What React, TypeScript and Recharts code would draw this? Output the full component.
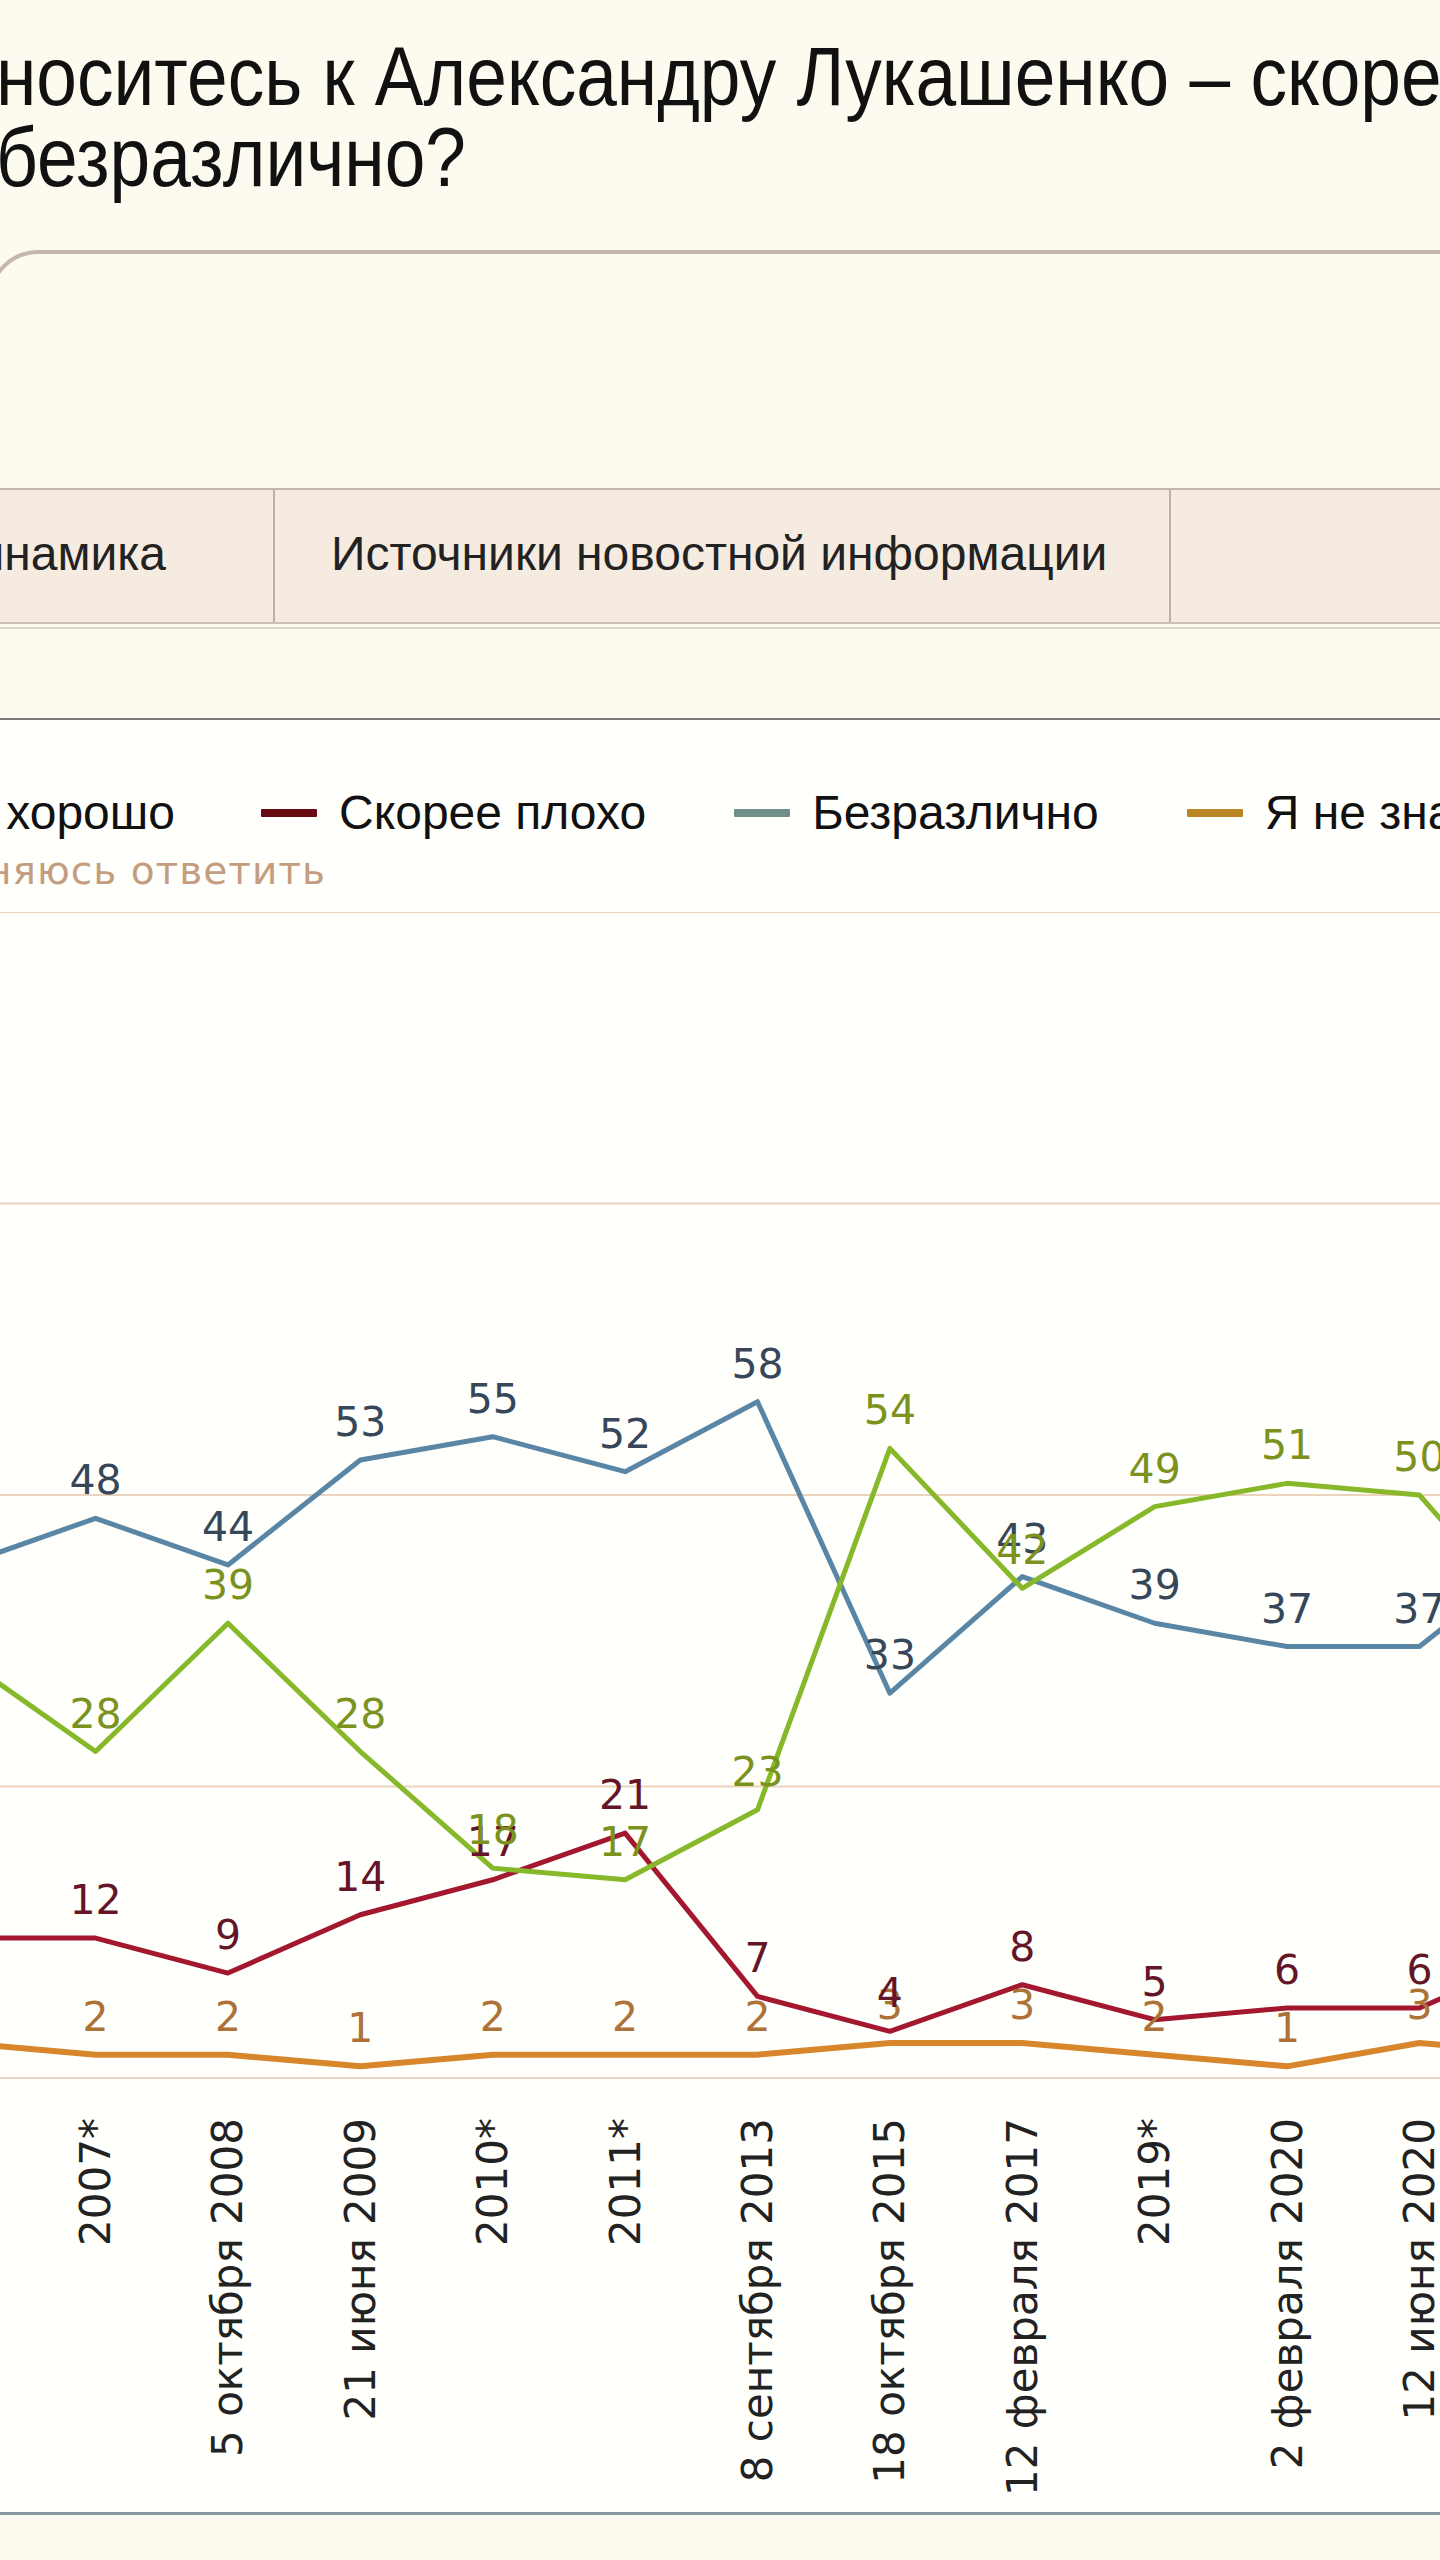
import React from "react";
import { CartesianGrid, LabelList, Line, LineChart, XAxis, YAxis } from "recharts";

// first and last points sit outside the visible crop
const categories = [
  "2006*",
  "2007*",
  "5 октября 2008",
  "21 июня 2009",
  "2010*",
  "2011*",
  "8 сентября 2013",
  "18 октября 2015",
  "12 февраля 2017",
  "2019*",
  "2 февраля 2020",
  "12 июня 2020",
  "август 2020"
];
const good = [36, 28, 39, 28, 18, 17, 23, 54, 42, 49, 51, 50, 37];
const bad = [12, 12, 9, 14, 17, 21, 7, 4, 8, 5, 6, 6, 11];
const indifferent = [44, 48, 44, 53, 55, 52, 58, 33, 43, 39, 37, 37, 46];
const unsure = [3, 2, 2, 1, 2, 2, 2, 3, 3, 2, 1, 3, 2];
const yTicks = [0, 25, 50, 75, 100];

const series = [
  { key: "unsure", name: "Я не знаю", color: "#d8862c", label: "#ad7237", legend: "#b98626", width: 6 },
  { key: "bad", name: "Скорее плохо", color: "#a3182e", label: "#641527", legend: "#6a0b14", width: 5 },
  { key: "indifferent", name: "Безразлично", color: "#5a86a6", label: "#37475a", legend: "#6f9088", width: 5 },
  { key: "good", name: "Скорее хорошо", color: "#86b82a", label: "#7b921e", legend: "#86b82a", width: 5 }
];

const chartData = categories.map((name, idx) => ({
  idx,
  name,
  good: good[idx],
  bad: bad[idx],
  indifferent: indifferent[idx],
  unsure: unsure[idx]
}));

const labelTicks = categories.map((_, i) => i);
const boundTicks = categories.slice(1).map((_, i) => i + 0.5);

const CategoryTick = (props: any) => {
  const { x, y, payload } = props;
  return (
    <g transform={`translate(${x},${y + 40})`}>
      <text
        transform="rotate(-90)"
        textAnchor="end"
        dominantBaseline="central"
        fontSize={42}
        fontFamily="DejaVu Sans"
        fill="#222"
      >
        {categories[payload.value]}
      </text>
    </g>
  );
};

const sansL = "'Liberation Sans', Arial, sans-serif";

function LegendItem({ color, name }: { color: string; name: string }) {
  return (
    <div style={{ display: "flex", alignItems: "center", whiteSpace: "nowrap" }}>
      <div style={{ width: 56, height: 8, background: color, marginRight: 22, borderRadius: 1 }} />
      <span>{name}</span>
    </div>
  );
}

export default function App() {
  const legendOrder = ["bad", "indifferent", "unsure"].map((k) => series.find((s) => s.key === k)!);
  const goodS = series.find((s) => s.key === "good")!;
  return (
    <div
      style={{
        position: "absolute",
        left: 0,
        top: 0,
        width: 1440,
        height: 2560,
        overflow: "hidden",
        background: "#fdfbf0",
        fontFamily: sansL
      }}
    >
      {/* heading */}
      <div
        style={{
          position: "absolute",
          left: -4,
          top: 31,
          fontSize: 84,
          lineHeight: "90px",
          color: "#111",
          whiteSpace: "nowrap",
          transform: "scaleX(0.87)",
          transformOrigin: "left top"
        }}
      >
        <div>носитесь к Александру Лукашенко – скорее хорошо, скорее плохо или</div>
        <div style={{ marginTop: -9 }}>безразлично?</div>
      </div>

      {/* empty box */}
      <div
        style={{
          position: "absolute",
          left: -12,
          top: 250,
          width: 1520,
          height: 300,
          borderTop: "4px solid #c2b6ae",
          borderLeft: "4px solid #c2b6ae",
          borderTopLeftRadius: 50,
          boxShadow: "0 2px 3px rgba(160,140,130,0.25)"
        }}
      />

      {/* tabs */}
      <div
        style={{
          position: "absolute",
          left: 0,
          top: 488,
          width: 1440,
          height: 132,
          background: "#f6ebe1",
          borderTop: "2px solid #c2b8b0",
          borderBottom: "2px solid #cdc1b6",
          fontSize: 48,
          lineHeight: "56px",
          color: "#222"
        }}
      >
        <div style={{ position: "absolute", right: 1440 - 166, top: 36, whiteSpace: "nowrap" }}>Динамика</div>
        <div style={{ position: "absolute", left: 273, top: 0, width: 2, height: 132, background: "#bdb2aa" }} />
        <div style={{ position: "absolute", left: 331, top: 36, whiteSpace: "nowrap" }}>
          Источники новостной информации
        </div>
        <div style={{ position: "absolute", left: 1169, top: 0, width: 2, height: 132, background: "#bdb2aa" }} />
      </div>
      <div style={{ position: "absolute", left: 0, top: 627, width: 1440, height: 2, background: "#e0d5cb" }} />

      {/* panel */}
      <div
        style={{
          position: "absolute",
          left: 0,
          top: 718,
          width: 1440,
          height: 1795,
          background: "#fffffb",
          borderTop: "2px solid #7a7a7a"
        }}
      />
      <div style={{ position: "absolute", left: 0, top: 2512, width: 1440, height: 3, background: "#8b96a3" }} />

      {/* legend */}
      <div style={{ position: "absolute", top: 785, left: 0, width: 1440, fontSize: 48, lineHeight: "56px", color: "#111" }}>
        <div style={{ position: "absolute", right: 1440 - 175, top: 0 }}>
          <LegendItem color={goodS.legend} name={goodS.name} />
        </div>
        <div style={{ position: "absolute", left: 261, top: 0, display: "flex", gap: 88 }}>
          {legendOrder.map((s) => (
            <LegendItem key={s.key} color={s.legend} name={s.name} />
          ))}
        </div>
      </div>
      <div
        style={{
          position: "absolute",
          right: 1440 - 326,
          top: 849,
          fontFamily: "DejaVu Sans",
          fontSize: 39,
          letterSpacing: 1,
          lineHeight: "44px",
          color: "#c49d80",
          whiteSpace: "nowrap"
        }}
      >
        затрудняюсь ответить
      </div>

      {/* chart */}
      <div style={{ position: "absolute", left: -103, top: 912 }}>
        <LineChart width={1721} height={1586} data={chartData} margin={{ top: 0, right: 0, bottom: 0, left: 0 }}>
          <CartesianGrid xAxisId="grid" stroke="#ebd3bd" strokeWidth={2} />
          <XAxis
            xAxisId="grid"
            type="number"
            dataKey="idx"
            domain={[-0.5, 12.5]}
            ticks={boundTicks}
            interval={0}
            height={0}
            tick={false}
            tickSize={15}
            tickLine={{ stroke: "#8a8a8a", strokeWidth: 2 }}
            axisLine={{ stroke: "#a6a6a6", strokeWidth: 2 }}
          />
          <XAxis
            xAxisId="lab"
            type="number"
            dataKey="idx"
            domain={[-0.5, 12.5]}
            ticks={labelTicks}
            interval={0}
            height={420}
            tickSize={0}
            tickMargin={0}
            tickLine={false}
            axisLine={false}
            tick={<CategoryTick />}
          />
          <YAxis hide domain={[0, 100]} ticks={yTicks} />
          {series.map((s) => (
            <Line
              key={s.key}
              xAxisId="lab"
              type="linear"
              dataKey={s.key}
              name={s.name}
              stroke={s.color}
              strokeWidth={s.width}
              strokeLinejoin="round"
              dot={false}
              isAnimationActive={false}
            >
              <LabelList
                dataKey={s.key}
                position="top"
                offset={24}
                fill={s.label}
                fontSize={41}
                fontFamily="DejaVu Sans"
              />
            </Line>
          ))}
        </LineChart>
      </div>
    </div>
  );
}
